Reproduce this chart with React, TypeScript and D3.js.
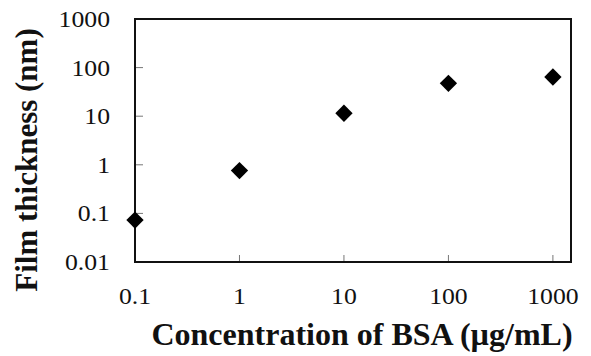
import React, { useEffect, useRef } from "react";
import * as d3 from "d3";

// BSA concentration (µg/mL) and film thickness (nm)
const concentrations = [0.1, 1, 10, 100, 1000];
const thickness = [0.073, 0.76, 11.5, 47.5, 64];

const xTicks = [0.1, 1, 10, 100, 1000];
const xTickLabels = ["0.1", "1", "10", "100", "1000"];
const yTicks = [0.01, 0.1, 1, 10, 100, 1000];
const yTickLabels = ["0.01", "0.1", "1", "10", "100", "1000"];

const W = 591;
const H = 356;

export default function App() {
    const svgRef = useRef<SVGSVGElement | null>(null);

    useEffect(() => {
        if (!svgRef.current) return;
        const svg = d3.select(svgRef.current);
        svg.selectAll("*").remove();

        const margin = { top: 19, right: 20, bottom: 94, left: 135 };
        const plotW = W - margin.left - margin.right;
        const plotH = H - margin.top - margin.bottom;
        const font = "'Liberation Serif', 'Times New Roman', serif";

        // the frame runs a bit past 1000 on the right, like the original Excel axis
        const x = d3.scaleLog().domain([0.1, 1490]).range([0, plotW]);
        const y = d3.scaleLog().domain([0.01, 1000]).range([plotH, 0]);

        const g = svg.append("g").attr("transform", `translate(${margin.left},${margin.top})`);

        // tick marks (inside)
        g.selectAll(".ytick")
            .data(yTicks.slice(1, -1))
            .join("line")
            .attr("x1", 0)
            .attr("x2", 8)
            .attr("y1", d => y(d))
            .attr("y2", d => y(d))
            .attr("stroke", "#777")
            .attr("stroke-width", 1);

        g.selectAll(".xtick")
            .data(xTicks.slice(1))
            .join("line")
            .attr("x1", d => x(d))
            .attr("x2", d => x(d))
            .attr("y1", plotH)
            .attr("y2", plotH - 7)
            .attr("stroke", "#777")
            .attr("stroke-width", 1);

        // frame
        g.append("rect")
            .attr("x", 0)
            .attr("y", 0)
            .attr("width", plotW)
            .attr("height", plotH)
            .attr("fill", "none")
            .attr("stroke", "#111")
            .attr("stroke-width", 2);

        // tick labels
        g.selectAll(".ylab")
            .data(yTicks)
            .join("text")
            .attr("transform", d => `translate(-25,${y(d)}) scale(1.12,1)`)
            .attr("text-anchor", "end")
            .attr("dy", "0.35em")
            .attr("font-family", font)
            .attr("font-size", 23)
            .attr("fill", "#111")
            .text((d, i) => yTickLabels[i]);

        g.selectAll(".xlab")
            .data(xTicks)
            .join("text")
            .attr("transform", d => `translate(${x(d)},${plotH + 42}) scale(1.12,1)`)
            .attr("text-anchor", "middle")
            .attr("font-family", font)
            .attr("font-size", 23)
            .attr("fill", "#111")
            .text((d, i) => xTickLabels[i]);

        // points
        const diamond = d3.symbol().type(d3.symbolSquare).size(150);
        g.selectAll(".pt")
            .data(concentrations)
            .join("path")
            .attr("d", diamond)
            .attr("transform", (d, i) => `translate(${x(d)},${y(thickness[i])}) rotate(45)`)
            .attr("fill", "#000");

        // axis titles
        svg.append("text")
            .attr("x", 362)
            .attr("y", H - 11)
            .attr("text-anchor", "middle")
            .attr("font-family", font)
            .attr("font-weight", "bold")
            .attr("font-size", 32)
            .attr("fill", "#111")
            .text("Concentration of BSA (µg/mL)");

        svg.append("text")
            .attr("transform", `translate(37,160) rotate(-90)`)
            .attr("text-anchor", "middle")
            .attr("font-family", font)
            .attr("font-weight", "bold")
            .attr("font-size", 31)
            .attr("fill", "#111")
            .text("Film thickness (nm)");
    }, []);

    return (
        <svg
            ref={svgRef}
            width={W}
            height={H}
            style={{ position: "absolute", left: 0, top: 0, background: "#fff" }}
        />
    );
}
